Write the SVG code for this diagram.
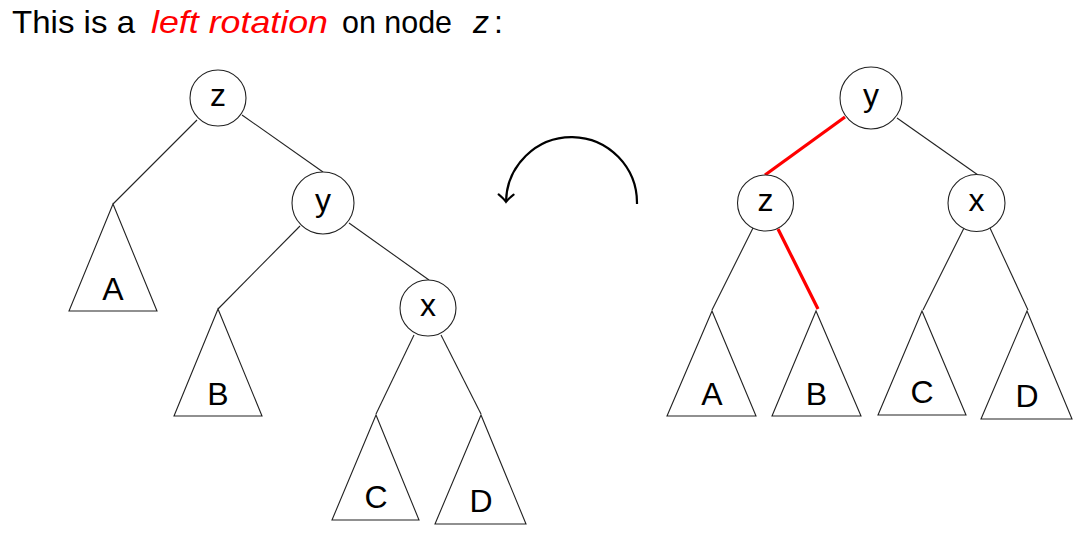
<svg xmlns="http://www.w3.org/2000/svg" width="1087" height="540" viewBox="0 0 1087 540">
<style>
  .t { font-family: "Liberation Sans", Arial, sans-serif; font-size: 32px; fill: #000; }
  .lbl { font-family: "Liberation Sans", Arial, sans-serif; font-size: 32px; fill: #000; text-anchor: middle; }
  .node { fill: #fff; stroke: #222; stroke-width: 1.1; }
  .tri { fill: #fff; stroke: #222; stroke-width: 1.1; stroke-linejoin: miter; }
  .edge { stroke: #222; stroke-width: 1.1; fill: none; }
  .red { stroke: #ff0000; stroke-width: 3.2; fill: none; }
</style>
<defs>
  <marker id="ah" markerUnits="userSpaceOnUse" markerWidth="20" markerHeight="20" refX="0" refY="0" viewBox="-10 -10 20 20" orient="auto" overflow="visible">
    <path d="M -7.5 -7.5 Q -3 -2 0 0 Q -3 2 -7.5 7.5" fill="none" stroke="#000" stroke-width="2" stroke-linecap="round"/>
  </marker>
</defs>
<rect width="1087" height="540" fill="#fff"/>

<g id="title">
  <text class="t" x="12" y="33" textLength="123" lengthAdjust="spacingAndGlyphs">This is a</text>
  <text class="t" x="151" y="33" style="fill:#ff0000;font-style:italic" textLength="177" lengthAdjust="spacingAndGlyphs">left rotation</text>
  <text class="t" x="342" y="33" textLength="110" lengthAdjust="spacingAndGlyphs">on node</text>
  <text class="t" x="473" y="33" style="font-style:italic">z</text>
  <text class="t" x="494" y="33">:</text>
</g>

<g id="connectors">
  <line class="edge" x1="197" y1="120" x2="113" y2="204"/>
  <line class="edge" x1="242" y1="115" x2="323" y2="172"/>
  <line class="edge" x1="300" y1="226" x2="218" y2="309"/>
  <line class="edge" x1="349" y1="223" x2="429" y2="280"/>
  <line class="edge" x1="414" y1="335" x2="376" y2="414"/>
  <line class="edge" x1="441" y1="335" x2="481" y2="414"/>

  <line class="red" x1="845" y1="117" x2="765" y2="175"/>
  <line class="edge" x1="897" y1="118" x2="978" y2="175"/>
  <line class="edge" x1="753" y1="228" x2="712" y2="310"/>
  <line class="red" x1="778" y1="229" x2="818" y2="309"/>
  <line class="edge" x1="964" y1="228" x2="923" y2="310"/>
  <line class="edge" x1="990" y1="228" x2="1028" y2="310"/>

  <path d="M 637 204 A 65.5 66 0 0 0 506 202" fill="none" stroke="#000" stroke-width="2.2" marker-end="url(#ah)"/>
</g>

<!-- left tree -->
<g id="L-z"><circle class="node" cx="218" cy="98" r="28"/><text class="lbl" x="218" y="106">z</text></g>
<g id="L-y"><circle class="node" cx="323" cy="203" r="31"/><text class="lbl" x="323" y="211">y</text></g>
<g id="L-x"><circle class="node" cx="428" cy="308" r="28"/><text class="lbl" x="428" y="316">x</text></g>
<g id="L-A"><polygon class="tri" points="113,204 69,311 157,311"/><text class="lbl" x="113" y="300">A</text></g>
<g id="L-B"><polygon class="tri" points="218,309 174,416 262,416"/><text class="lbl" x="218" y="405">B</text></g>
<g id="L-C"><polygon class="tri" points="376,415 332,520 419,520"/><text class="lbl" x="376" y="508">C</text></g>
<g id="L-D"><polygon class="tri" points="481,415 435,524 526,524"/><text class="lbl" x="481" y="512">D</text></g>

<!-- right tree -->
<g id="R-y"><circle class="node" cx="871" cy="98" r="31"/><text class="lbl" x="871" y="106">y</text></g>
<g id="R-z"><circle class="node" cx="765.5" cy="203" r="28"/><text class="lbl" x="765.5" y="211">z</text></g>
<g id="R-x"><circle class="node" cx="976.5" cy="203" r="28.5"/><text class="lbl" x="976.5" y="211">x</text></g>
<g id="R-A"><polygon class="tri" points="712,311 667,416 756,416"/><text class="lbl" x="712" y="405">A</text></g>
<g id="R-B"><polygon class="tri" points="816,311 772,416 861,416"/><text class="lbl" x="816.5" y="405">B</text></g>
<g id="R-C"><polygon class="tri" points="922,311 878,415 966,415"/><text class="lbl" x="922" y="403">C</text></g>
<g id="R-D"><polygon class="tri" points="1027,311 981,419 1072,419"/><text class="lbl" x="1027" y="407">D</text></g>
</svg>
